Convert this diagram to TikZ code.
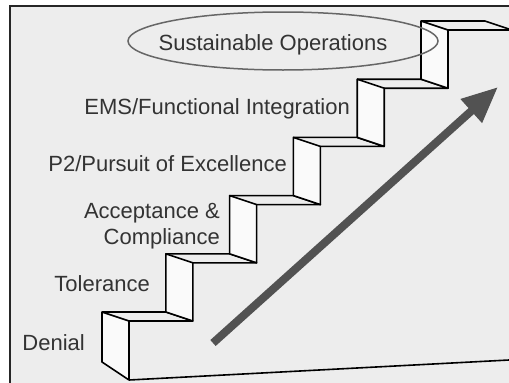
\documentclass[tikz,border=0pt]{standalone}
\usepackage{fontspec}
\setmainfont{Liberation Sans}
\usetikzlibrary{arrows.meta,shapes.geometric}

\begin{document}
\begin{tikzpicture}[x=1pt, y=-1pt,
        stair/.style={line width=1.6pt, line join=round},
        level/.style={anchor=base east, inner sep=0pt, text=black!80, font=\fontsize{22}{26}\selectfont},
        growth/.style={line width=8pt, draw=black!68, -{Triangle[length=36pt, width=30pt, fill=black!68]}}]

        % Canvas and frame
        \useasboundingbox (0,0) rectangle (509,383);
        \fill[white] (0,0) rectangle (509,383);
        \fill[black!7] (10,6) rectangle (509,383);
        \draw[line width=2.4pt, black!85] (10,383) -- (10,6) -- (509,6);

        % Draw the steps: side of each riser, then its tread
        \foreach \i in {1,...,6} {
            \pgfmathsetmacro{\bx}{102+(\i-1)*63.8}
            \pgfmathsetmacro{\yt}{312-(\i-1)*58.2}
            \pgfmathsetmacro{\yb}{\yt+(\i==1)*50+(\i>1)*58.2}
            \pgfmathsetmacro{\fb}{(\i==1)*380+(\i>1)*(\yt+67.2)}
            \pgfmathsetmacro{\nx}{\bx+63.8}
            \filldraw[stair, fill=black!2] (\bx,\yt) -- (\bx+27,\yt+9) -- (\bx+27,\fb) -- (\bx,\yb) -- cycle;
            \draw[stair] (\bx,\yt) -- (\nx,\yt) -- (\nx+27,\yt+9) -- (\bx+27,\yt+9);
        }

        % Floor line
        \draw[stair] (129,380) -- (509,360);

        % Stage labels
        \node[level] (denial) at (85,350) {Denial};
        \node[level] (tolerance) at (150,291) {Tolerance};
        \node[level] (accept) at (220,218) {Acceptance \&};
        \node[level] (comply) at (220,244) {Compliance};
        \node[level] (pursuit) at (287,171) {P2/Pursuit of Excellence};
        \node[level] (ems) at (350,114) {EMS/Functional Integration};
        \node[level, anchor=base] (sustain) at (273,50) {Sustainable Operations};

        % Ring round the top stage
        \node[ellipse, draw=black!60, line width=1.5pt, minimum width=310pt, minimum height=58pt] (goal) at (283,41) {};

        % Upward arrow
        \coordinate (tail) at (213,343);
        \coordinate (tip) at (498,87);
        \draw[growth] (tail) -- (tip);

\end{tikzpicture}
\end{document}
